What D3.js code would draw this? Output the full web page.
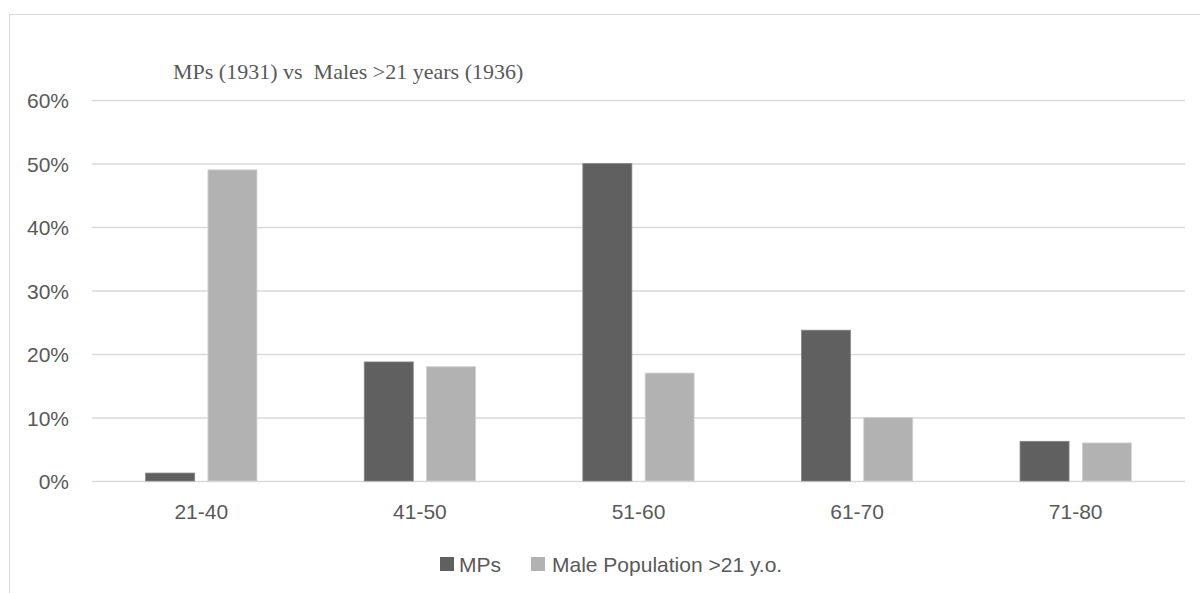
<!DOCTYPE html>
<html>
<head>
<meta charset="utf-8">
<script src="https://cdn.jsdelivr.net/npm/d3@7/dist/d3.min.js"></script>
<style>
  html, body { margin: 0; padding: 0; background: #fff; }
  svg { display: block; }
</style>
</head>
<body>
<svg id="chart" width="1200" height="593"></svg>
<script>
const categories = ["21-40", "41-50", "51-60", "61-70", "71-80"];
const seriesNames = ["MPs", "Male Population >21 y.o."];
const mpsValues = [1.25, 18.75, 50, 23.75, 6.25];
const maleValues = [49, 18, 17, 10, 6];
const yTicks = [0, 10, 20, 30, 40, 50, 60];
const titleText = "MPs (1931) vs  Males >21 years (1936)";
const colors = ["#606060", "#b2b2b2"];
const strokes = ["#858585", "#d2d2d2"];

const svg = d3.select("#chart");
const textColor = "#595959";
const sansFont = "'Liberation Sans', Arial, sans-serif";

// chart area border
svg.append("rect")
  .attr("x", 9.5).attr("y", 14.5)
  .attr("width", 1300).attr("height", 700)
  .attr("fill", "#fff").attr("stroke", "#d9d9d9").attr("stroke-width", 1);

const plot = { left: 92, right: 1185, top: 100, bottom: 481 };

const y = d3.scaleLinear().domain([0, 60]).range([plot.bottom, plot.top]);
const x0 = d3.scaleBand().domain(categories).range([plot.left, plot.right]).padding(0);
const groupW = 111.3;
const x1 = d3.scaleBand().domain(seriesNames).range([0, groupW]).paddingInner(0.2135).paddingOuter(0);

// gridlines via axis
const yAxis = d3.axisLeft(y).tickValues(yTicks).tickSize(-(plot.right - plot.left)).tickFormat(d => d + "%");
const gy = svg.append("g").attr("transform", `translate(${plot.left},0)`).call(yAxis);
gy.select(".domain").remove();
gy.selectAll(".tick line").attr("stroke", "#d9d9d9").attr("stroke-width", 1.5);
gy.selectAll(".tick text")
  .attr("x", -23)
  .attr("dy", "0.36em")
  .attr("fill", textColor)
  .style("font-family", sansFont)
  .style("font-size", "21px")
  .attr("text-anchor", "end");

// bars
const data = categories.map((c, i) => ({ cat: c, values: [mpsValues[i], maleValues[i]] }));
const groups = svg.append("g").selectAll("g")
  .data(data).join("g")
  .attr("transform", d => `translate(${x0(d.cat) + (x0.bandwidth() - groupW) / 2},0)`);
groups.selectAll("rect")
  .data(d => d.values.map((v, k) => ({ k, v })))
  .join("rect")
  .attr("x", d => x1(seriesNames[d.k]))
  .attr("width", x1.bandwidth())
  .attr("y", d => y(d.v))
  .attr("height", d => y(0) - y(d.v))
  .attr("fill", d => colors[d.k])
  .attr("stroke", d => strokes[d.k])
  .attr("stroke-width", 0.8);

// x axis labels
const xAxis = d3.axisBottom(x0).tickSize(0).tickPadding(0);
const gx = svg.append("g").attr("transform", `translate(0,${plot.bottom})`).call(xAxis);
gx.select(".domain").remove();
gx.selectAll(".tick text")
  .attr("y", 38)
  .attr("dy", 0)
  .attr("fill", textColor)
  .style("font-family", sansFont)
  .style("font-size", "21px");

// title
svg.append("text")
  .attr("x", 173).attr("y", 79)
  .attr("fill", textColor)
  .style("font-family", "'Liberation Serif', 'Times New Roman', serif")
  .style("font-size", "22px")
  .style("white-space", "pre")
  .text(titleText);

// legend
const legendItems = [
  { name: seriesNames[0], x: 440, textX: 459 },
  { name: seriesNames[1], x: 531, textX: 552 }
];
const lg = svg.append("g");
legendItems.forEach((it, i) => {
  lg.append("rect").attr("x", it.x).attr("y", 557).attr("width", 14).attr("height", 14).attr("fill", colors[i]);
  lg.append("text").attr("x", it.textX).attr("y", 572)
    .attr("fill", textColor)
    .style("font-family", sansFont)
    .style("font-size", "21px")
    .text(it.name);
});
</script>
</body>
</html>
